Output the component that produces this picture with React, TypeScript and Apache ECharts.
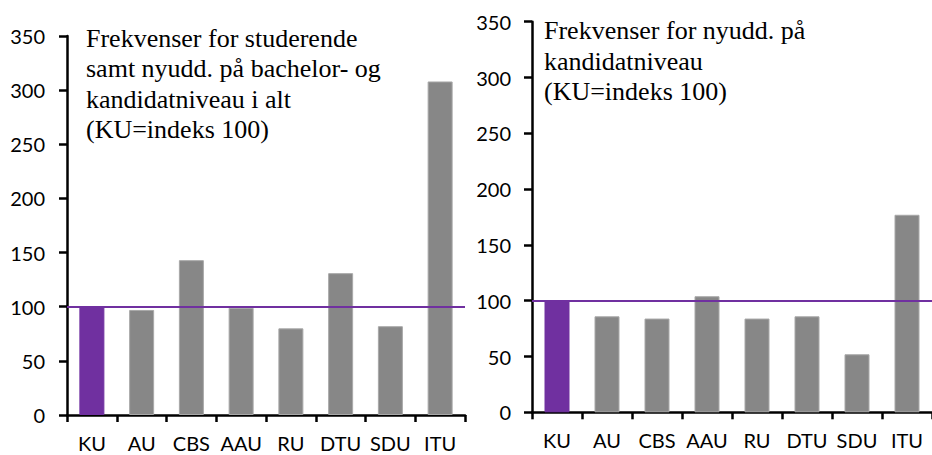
import React, { useEffect, useRef } from "react";
import * as echarts from "echarts";

const categories = ["KU", "AU", "CBS", "AAU", "RU", "DTU", "SDU", "ITU"];
const leftValues = [100, 97, 143, 99, 80, 131, 82, 308];
const rightValues = [100, 86, 84, 104, 84, 86, 52, 177];
const yTicks = { min: 0, max: 350, interval: 50 };
const referenceValue = 100;
const leftTitle = "Frekvenser for studerende\nsamt nyudd. på bachelor- og\nkandidatniveau i alt\n(KU=indeks 100)";
const rightTitle = "Frekvenser for nyudd. på\nkandidatniveau\n(KU=indeks 100)";

const PURPLE = "#7030A0";
const GRAY = "#878787";

export default function App() {
  const ref = useRef<HTMLDivElement>(null);
  useEffect(() => {
    document.body.style.margin = "0";
    const chart = echarts.init(ref.current!, null, { renderer: "svg" });
    const axisLine = { show: true, lineStyle: { color: "#000", width: 2.5 } };
    const mkX = (gridIndex: number) => ({
      type: "category",
      gridIndex,
      data: categories,
      boundaryGap: true,
      axisLine,
      axisTick: { show: true, interval: 0, length: 7, lineStyle: { color: "#000", width: 2.5 } },
      axisLabel: { color: "#000", fontFamily: "Lato", fontSize: 20, margin: 18, interval: 0 },
      splitLine: { show: false },
    });
    const mkY = (gridIndex: number, margin: number) => ({
      type: "value",
      gridIndex,
      min: yTicks.min,
      max: yTicks.max,
      interval: yTicks.interval,
      axisLine,
      axisTick: { show: true, length: 8, lineStyle: { color: "#000", width: 2.5 } },
      axisLabel: { color: "#000", fontFamily: "Lato", fontSize: 20, margin },
      splitLine: { show: false },
    });
    const mkSeries = (idx: number, values: number[]) => ({
      type: "bar",
      xAxisIndex: idx,
      yAxisIndex: idx,
      barWidth: 25,
      data: values.map((v, i) => ({
        value: v,
        itemStyle: {
          color: i === 0 ? PURPLE : GRAY,
          borderColor: i === 0 ? PURPLE : "#a8a8a8",
          borderWidth: 1,
        },
      })),
      markLine: {
        silent: true,
        symbol: "none",
        label: { show: false },
        lineStyle: { color: PURPLE, width: 2, type: "solid" },
        data: [{ yAxis: referenceValue }],
      },
    });
    const titleStyle = { fontFamily: "Liberation Serif", fontSize: 26, fontWeight: "normal", color: "#000", lineHeight: 30.5 };
    chart.setOption({
      animation: false,
      backgroundColor: "#fff",
      title: [
        { text: leftTitle, left: 86, top: 23, padding: 0, textStyle: titleStyle },
        { text: rightTitle, left: 544, top: 15.5, padding: 0, textStyle: titleStyle },
      ],
      grid: [
        { left: 67, top: 36, width: 398, height: 379 },
        { left: 532, top: 21.7, width: 408, height: 390.6 },
      ],
      xAxis: [mkX(0), mkX(1)],
      yAxis: [mkY(0, 22), mkY(1, 21)],
      series: [mkSeries(0, leftValues), mkSeries(1, rightValues)],
    });
    return () => chart.dispose();
  }, []);
  return <div ref={ref} style={{ position: "fixed", left: 0, top: 0, width: 932, height: 455 }} />;
}
